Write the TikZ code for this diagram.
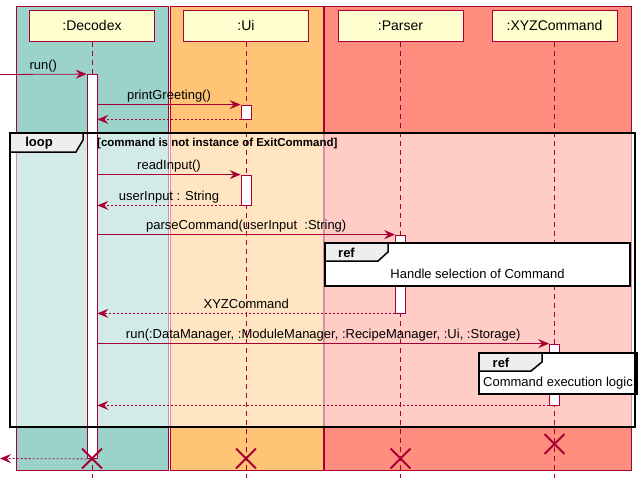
\documentclass[tikz,border=0pt]{standalone}
\usepackage{fontspec}
\setmainfont{Liberation Sans}
\usetikzlibrary{arrows.meta,shapes.misc}
\definecolor{pu}{HTML}{A80036}
\definecolor{headfill}{HTML}{FEFECE}
\definecolor{boxA}{HTML}{9BD3CA}
\definecolor{boxB}{HTML}{FFC476}
\definecolor{boxC}{HTML}{FF8E7F}
\definecolor{tabfill}{HTML}{EEEEEE}
\begin{document}
\begin{tikzpicture}[x=1pt,y=-1pt,
  boxbg/.style={draw=pu, line width=0.8pt},
  head/.style={draw=pu, fill=headfill, line width=1pt, minimum width=125pt, minimum height=31pt, inner sep=0pt, font=\fontsize{14}{16}\selectfont},
  life/.style={draw=pu, line width=0.8pt, dash pattern=on 5pt off 4pt},
  act/.style={draw=pu, fill=white, line width=0.8pt, minimum width=10pt, inner sep=0pt},
  msg/.style={draw=pu, line width=0.8pt, -{Stealth[length=11pt,width=9pt,inset=4pt]}},
  ret/.style={msg, dash pattern=on 2pt off 2pt},
  lbl/.style={font=\fontsize{13}{15}\selectfont, anchor=base, yshift=5pt, inner sep=0pt, text=black},
  frame/.style={draw=black, line width=2pt},
  refframe/.style={draw=black, fill=white, line width=1.5pt},
  tab/.style={draw=black, fill=tabfill, line width=1.5pt},
  tabtext/.style={font=\fontsize{13}{15}\selectfont\bfseries, inner sep=0pt},
  reftext/.style={font=\fontsize{13}{15}\selectfont, inner sep=0pt},
  guard/.style={font=\fontsize{11.5}{13}\selectfont\bfseries, anchor=west, inner sep=0pt},
  xmark/.style={cross out, draw=pu, line width=1.8pt, minimum size=18pt, inner sep=0pt}
]
\useasboundingbox (0,0) rectangle (642,482);
% boxes
\fill[boxA] (16,6) rectangle (168,470);
\draw[boxbg] (16,6) rectangle (168,470);
\fill[boxB] (170,6) rectangle (323,470);
\draw[boxbg] (170,6) rectangle (323,470);
\fill[boxC] (324,6) rectangle (631,470);
\draw[boxbg] (324,6) rectangle (631,470);
% loop overlay
\fill[white, fill opacity=0.56] (10,133) rectangle (635,427);
% heads
\node[head] (hD) at (92,25.75) {:Decodex};
\node[head] (hU) at (246,25.75) {:Ui};
\node[head] (hP) at (400.5,25.75) {:Parser};
\node[head] (hX) at (554.5,25.75) {:XYZCommand};
% lifeline ends
\coordinate (eD) at (92,478);
\coordinate (eU) at (246,478);
\coordinate (eP) at (400.5,478);
\coordinate (eX) at (554.5,478);
\draw[life] (hD.south) -- (eD);
\draw[life] (hU.south) -- (eU);
\draw[life] (hP.south) -- (eP);
\draw[life] (hX.south) -- (eX);
% activations
\node[act, minimum height=384pt] (aD) at (92,266.5) {};
\node[act, minimum height=14pt] (aU1) at (246,112) {};
\node[act, minimum height=30pt] (aU2) at (246,190) {};
\node[act, minimum height=78pt] (aP) at (400.5,274) {};
\node[act, minimum height=61pt] (aX) at (554.5,374.5) {};
% messages
\coordinate (start) at (0,74.5);
\coordinate (finish) at (0,458.5);
\draw[msg] (start) -- node[lbl]{run()} (aD.north west);
\draw[msg] (aD.east |- aU1.north) -- node[lbl]{printGreeting()} (aU1.north west);
\draw[ret] (aU1.south west) -- (aD.east |- aU1.south);
\draw[msg] (aD.east |- aU2.north) -- node[lbl]{readInput()} (aU2.north west);
\draw[ret] (aU2.south west) -- node[lbl]{userInput : String} (aD.east |- aU2.south);
\draw[msg] (aD.east |- aP.north) -- node[lbl]{parseCommand(userInput\ \ :String)} (aP.north west);
\draw[ret] (aP.south west) -- node[lbl]{XYZCommand} (aD.east |- aP.south);
\draw[msg] (aD.east |- aX.north) -- node[lbl]{run(:DataManager, :ModuleManager, :RecipeManager, :Ui, :Storage)} (aX.north west);
\draw[ret] (aX.south west) -- (aD.east |- aX.south);
\draw[ret] (aD.south west) -- (finish);
% ref 1
\draw[refframe] (325,243) rectangle (630,286);
\draw[tab] (325,243) -- (388,243) -- (388,252) -- (378,261) -- (325,261) -- cycle;
\node[tabtext] (r1t) at (346.5,253) {ref};
\node[reftext] (r1) at (477.5,274) {Handle selection of Command};
% ref 2
\draw[refframe] (479,353) rectangle (637,394);
\draw[tab] (479,353) -- (542,353) -- (542,362) -- (531,371) -- (479,371) -- cycle;
\node[tabtext] (r2t) at (501,363) {ref};
\node[reftext] (r2) at (558,383) {Command execution logic};
% loop frame
\draw[frame] (10,133) rectangle (635,427);
\draw[tab] (10,133) -- (83,133) -- (83,140) -- (76,152) -- (10,152) -- cycle;
\node[tabtext] (lt) at (39,143.5) {loop};
\node[guard] (g) at (97,144) {[command is not instance of ExitCommand]};
% destroy marks
\node[xmark] (xD) at (92,458.5) {};
\node[xmark] (xU) at (246,458.5) {};
\node[xmark] (xP) at (400.5,458.5) {};
\node[xmark] (xX) at (554.5,444) {};
\end{tikzpicture}
\end{document}
